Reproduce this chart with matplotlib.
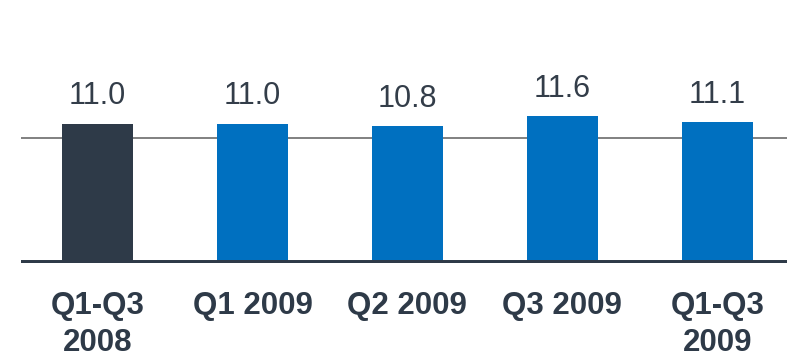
"""Bar chart of quarterly values, 2008 vs 2009."""

import matplotlib

matplotlib.use("Agg")
import matplotlib.pyplot as plt  # noqa: E402

CATEGORIES = ["Q1-Q3\n2008", "Q1 2009", "Q2 2009", "Q3 2009", "Q1-Q3\n2009"]
VALUES = [11.0, 11.0, 10.8, 11.6, 11.1]
REFERENCE = 9.9

DARK = "#2E3A48"
BLUE = "#0070C0"
BAR_COLORS = [DARK, BLUE, BLUE, BLUE, BLUE]

plt.rcParams.update(
    {
        "font.family": ["Liberation Sans", "DejaVu Sans"],
        "font.size": 22,
    }
)

figure = plt.figure(figsize=(7.87, 3.59), dpi=100)
axis = figure.add_axes([21 / 787, (359 - 263) / 359, 766 / 787, 174.3 / 359])

positions = range(len(VALUES))
axis.axhline(REFERENCE, color="#808080", linewidth=1.4, zorder=1)
bars = axis.bar(positions, VALUES, width=0.46, color=BAR_COLORS, zorder=2)
axis.axhline(0, color=DARK, linewidth=4.3, zorder=3)

for bar, value in zip(bars, VALUES):
    axis.annotate(
        f"{value:.1f}",
        (bar.get_x() + bar.get_width() / 2, bar.get_height()),
        xytext=(0, 14),
        textcoords="offset points",
        ha="center",
        va="baseline",
        color="#333D49",
        fontsize=22,
    )

axis.set_xlim(-0.494, 4.45)
axis.set_ylim(0, 13.75)
axis.set_xticks(list(positions), CATEGORIES)
axis.tick_params(axis="x", length=0, pad=20, labelcolor=DARK)
for label in axis.get_xticklabels():
    label.set_fontweight("bold")
    label.set_fontsize(22.5)
    label.set_linespacing(1.3)
axis.set_yticks([])
for spine in axis.spines.values():
    spine.set_visible(False)

figure.savefig("out.png", dpi=100, facecolor="white")
plt.close(figure)
